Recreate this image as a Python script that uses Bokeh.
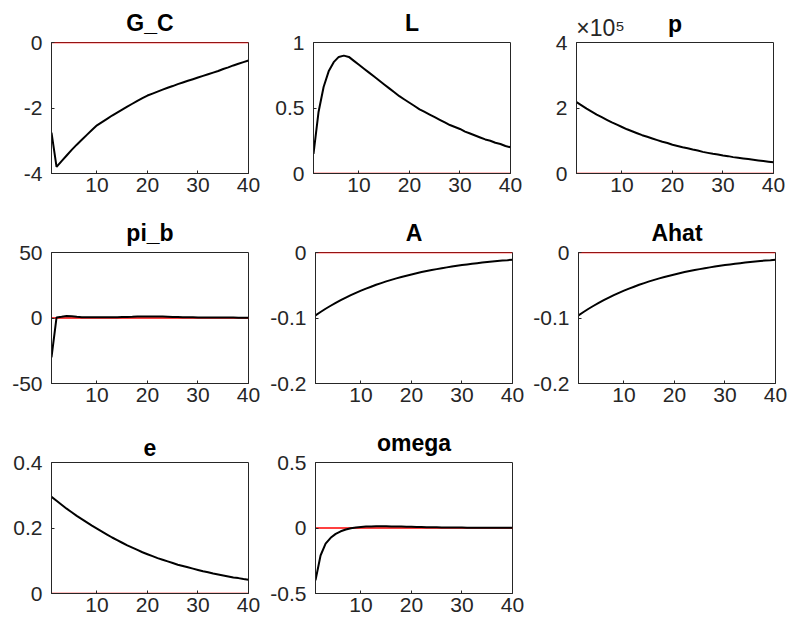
from bokeh.plotting import figure
from bokeh.models import Range1d, FixedTicker, Span, LinearAxis
from bokeh.layouts import column, row
from bokeh.embed import file_html
from bokeh.resources import INLINE

periods = [1, 2, 3, 4, 5, 6, 7, 8, 9, 10, 11, 12, 13, 14, 15, 16, 17, 18, 19, 20,
           21, 22, 23, 24, 25, 26, 27, 28, 29, 30, 31, 32, 33, 34, 35, 36, 37, 38, 39, 40]

G_C = [-2.75, -3.80, -3.62, -3.45, -3.28, -3.12, -2.97, -2.82, -2.67, -2.53,
       -2.43, -2.33, -2.23, -2.14, -2.05, -1.96, -1.87, -1.78, -1.70, -1.62,
       -1.56, -1.50, -1.44, -1.38, -1.33, -1.27, -1.22, -1.17, -1.12, -1.07,
       -1.02, -0.97, -0.92, -0.87, -0.81, -0.76, -0.70, -0.65, -0.60, -0.55]

L = [0.15, 0.47, 0.66, 0.78, 0.85, 0.89, 0.90, 0.89, 0.86, 0.83,
     0.80, 0.77, 0.74, 0.71, 0.68, 0.65, 0.62, 0.59, 0.565, 0.54,
     0.515, 0.49, 0.47, 0.45, 0.43, 0.41, 0.39, 0.37, 0.355, 0.34,
     0.32, 0.305, 0.29, 0.275, 0.26, 0.25, 0.235, 0.225, 0.21, 0.20]

p_vals = [218000, 208000, 198000, 189000, 180000, 172000, 164000, 156000, 149000, 142000,
          135000, 129000, 123000, 117000, 112000, 107000, 102000, 97000, 93000, 88000,
          84000, 80000, 77000, 73000, 70000, 66000, 63000, 60000, 58000, 55000,
          53000, 50000, 48000, 46000, 44000, 42000, 40000, 38000, 36000, 34000]

pi_b = [-30.0, 0.4, 0.9, 1.5, 1.4, 0.9, 0.6, 0.5, 0.5, 0.5,
        0.5, 0.5, 0.6, 0.6, 0.7, 0.8, 0.9, 1.1, 1.2, 1.2,
        1.2, 1.2, 1.1, 1.0, 0.8, 0.7, 0.6, 0.5, 0.5, 0.4,
        0.4, 0.4, 0.3, 0.3, 0.3, 0.3, 0.3, 0.2, 0.2, 0.2]

A = [-0.0960, -0.0908, -0.0859, -0.0813, -0.0769, -0.0727, -0.0688, -0.0651, -0.0616, -0.0583,
     -0.0551, -0.0522, -0.0493, -0.0467, -0.0441, -0.0418, -0.0395, -0.0374, -0.0354, -0.0335,
     -0.0317, -0.0299, -0.0283, -0.0268, -0.0254, -0.0240, -0.0227, -0.0215, -0.0203, -0.0192,
     -0.0182, -0.0172, -0.0163, -0.0154, -0.0146, -0.0138, -0.0130, -0.0123, -0.0117, -0.0110]

Ahat = [-0.0960, -0.0908, -0.0859, -0.0813, -0.0769, -0.0727, -0.0688, -0.0651, -0.0616, -0.0583,
        -0.0551, -0.0522, -0.0493, -0.0467, -0.0441, -0.0418, -0.0395, -0.0374, -0.0354, -0.0335,
        -0.0317, -0.0299, -0.0283, -0.0268, -0.0254, -0.0240, -0.0227, -0.0215, -0.0203, -0.0192,
        -0.0182, -0.0172, -0.0163, -0.0154, -0.0146, -0.0138, -0.0130, -0.0123, -0.0117, -0.0110]

e = [0.295, 0.283, 0.271, 0.259, 0.248, 0.237, 0.227, 0.217, 0.207, 0.198,
     0.189, 0.180, 0.171, 0.163, 0.155, 0.147, 0.140, 0.133, 0.126, 0.120,
     0.114, 0.108, 0.103, 0.098, 0.093, 0.088, 0.084, 0.080, 0.076, 0.072,
     0.068, 0.065, 0.061, 0.058, 0.055, 0.052, 0.049, 0.047, 0.044, 0.042]

omega = [-0.40, -0.21, -0.12, -0.075, -0.045, -0.025, -0.011, -0.002, 0.004, 0.008,
         0.011, 0.012, 0.013, 0.013, 0.013, 0.012, 0.012, 0.011, 0.010, 0.009,
         0.008, 0.007, 0.006, 0.005, 0.005, 0.004, 0.004, 0.003, 0.003, 0.003,
         0.002, 0.002, 0.002, 0.002, 0.001, 0.001, 0.001, 0.001, 0.001, 0.001]

x_ticks = [10, 20, 30, 40]

titles = ["G_C", "L", "p", "pi_b", "A", "Ahat", "e", "omega"]
series = [G_C, L, p_vals, pi_b, A, Ahat, e, omega]
y_limits = [(-4, 0), (0, 1), (0, 400000), (-50, 50), (-0.2, 0), (-0.2, 0), (0, 0.4), (-0.5, 0.5)]
y_ticks = [[-4, -2, 0], [0, 0.5, 1], [0, 200000, 400000], [-50, 0, 50],
           [-0.2, -0.1, 0], [-0.2, -0.1, 0], [0, 0.2, 0.4], [-0.5, 0, 0.5]]
y_tick_labels = [["-4", "-2", "0"], ["0", "0.5", "1"], ["0", "2", "4"], ["-50", "0", "50"],
                 ["-0.2", "-0.1", "0"], ["-0.2", "-0.1", "0"], ["0", "0.2", "0.4"], ["-0.5", "0", "0.5"]]
p_scale_text = "\u00d710\u2075"

FONT = "Liberation Sans"
TXT = "#262626"
TICK_FS = "21px"
TITLE_FS = "23px"

col_borders = [(51, 19), (46, 16), (50, 12)]
row_tops = [42, 42, 42]
row_bottoms = [37, 37, 36]
SCALE_ANCHOR_X = 5.75   # where the x10^5 note sits above the p panel


def style_axis(ax):
    ax.axis_line_color = TXT
    ax.major_tick_line_color = TXT
    ax.major_tick_in = 3
    ax.major_tick_out = 0
    ax.minor_tick_in = 0
    ax.minor_tick_out = 0
    ax.major_label_text_font = FONT
    ax.major_label_text_font_size = TICK_FS
    ax.major_label_text_color = TXT


def make_panel(i):
    r, c = divmod(i, 3)
    bl, br = col_borders[c]
    ylo, yhi = y_limits[i]
    is_p = titles[i] == "p"
    p = figure(frame_width=197, frame_height=131,
               x_range=Range1d(1, 40), y_range=Range1d(ylo, yhi),
               output_backend="svg", toolbar_location=None,
               min_border_left=bl, min_border_right=br,
               min_border_top=row_tops[r], min_border_bottom=row_bottoms[r],
               title=None if is_p else titles[i])
    if not is_p:
        p.title.align = "center"
        p.title.text_font = FONT
        p.title.text_font_size = TITLE_FS
        p.title.text_font_style = "bold"
        p.title.text_color = "black"
        p.title.standoff = 14
    p.grid.visible = False
    p.outline_line_color = TXT
    p.outline_line_width = 1
    p.outline_line_alpha = 1.0
    p.background_fill_color = "white"
    p.border_fill_color = "white"

    zero = Span(location=0, dimension="width", line_color="red", line_width=1.5, level="underlay")
    p.add_layout(zero)
    p.line(periods, series[i], line_color="black", line_width=2)

    xa = p.xaxis[0]
    xa.ticker = FixedTicker(ticks=x_ticks)
    ya = p.yaxis[0]
    ya.ticker = FixedTicker(ticks=y_ticks[i])
    ya.major_label_overrides = {t: s for t, s in zip(y_ticks[i], y_tick_labels[i])}
    style_axis(xa)
    style_axis(ya)
    xa.major_label_standoff = 4
    ya.major_label_standoff = 9

    if is_p:
        top = LinearAxis(ticker=FixedTicker(ticks=[SCALE_ANCHOR_X]),
                         major_label_overrides={SCALE_ANCHOR_X: p_scale_text},
                         axis_line_color=None, major_tick_in=0, major_tick_out=0,
                         minor_tick_in=0, minor_tick_out=0,
                         major_label_text_font=FONT, major_label_text_font_size="23px",
                         major_label_text_color=TXT, major_label_standoff=2,
                         axis_label=titles[i], axis_label_text_font=FONT,
                         axis_label_text_font_size=TITLE_FS, axis_label_text_font_style="bold",
                         axis_label_text_color="black", axis_label_standoff=-25)
        p.add_layout(top, "above")
    return p


figs = [make_panel(i) for i in range(len(titles))]
layout = column(row(figs[0], figs[1], figs[2]),
                row(figs[3], figs[4], figs[5]),
                row(figs[6], figs[7]))

with open("out.html", "w") as f:
    f.write(file_html(layout, INLINE))
